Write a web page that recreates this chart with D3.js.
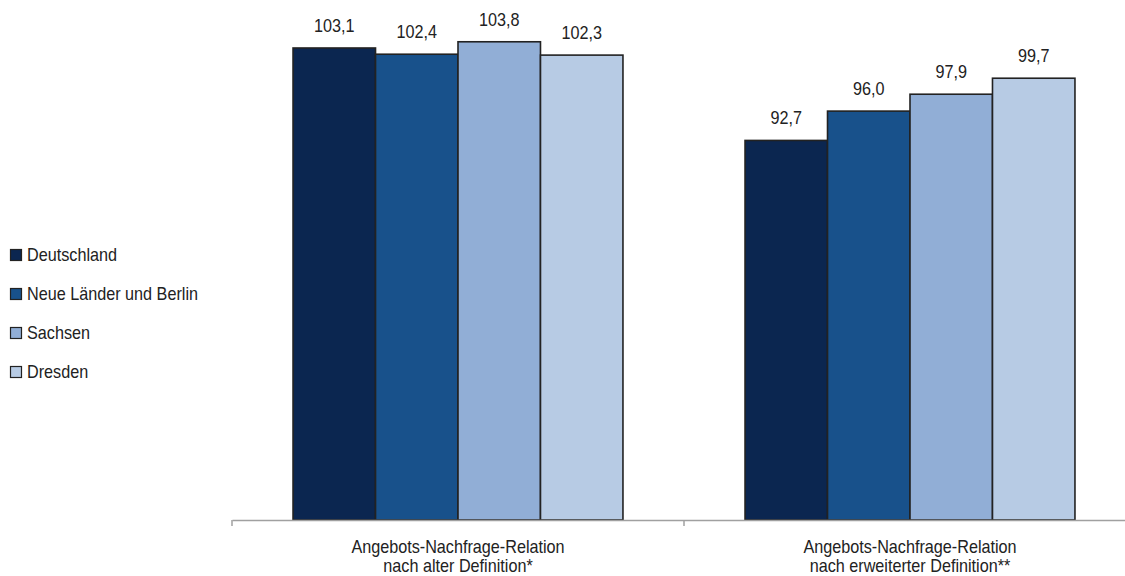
<!DOCTYPE html>
<html><head><meta charset="utf-8">
<script src="https://cdn.jsdelivr.net/npm/d3@7"></script>
<style>
body{margin:0;background:#fff;}
svg{display:block;font-family:"Liberation Sans Narrow","Arial Narrow","Liberation Sans",Arial,sans-serif;}
</style></head>
<body>
<svg id="chart" width="1125" height="576"></svg>
<script>
const categories = [["Angebots-Nachfrage-Relation","nach alter Definition*"],["Angebots-Nachfrage-Relation","nach erweiterter Definition**"]];
const seriesNames = ["Deutschland","Neue Länder und Berlin","Sachsen","Dresden"];
const deutschland = [103.1, 92.7];
const neueLaender = [102.4, 96.0];
const sachsen = [103.8, 97.9];
const dresden = [102.3, 99.7];
const colors = ["#0b2650","#18518b","#91aed6","#b7cbe4"];

const seriesValues = [deutschland, neueLaender, sachsen, dresden];
const fmt = v => v.toFixed(1).replace(".", ",");
const SX = 0.9; // horizontal condensing to mimic the narrow typeface

const svg = d3.select("#chart");
const axisY = 520;
const x0 = d3.scaleBand().domain(d3.range(categories.length)).range([232, 1136]).paddingInner(0).paddingOuter(0);
const x1 = d3.scaleBand().domain(d3.range(seriesNames.length)).range([0, x0.bandwidth()]).paddingOuter(0.74).paddingInner(0);
const y = d3.scaleLinear().domain([50, 105]).range([axisY, axisY - 55 * 8.889]);

function label(sel, x, yy, anchor, txt, size) {
  const g = sel.append("g").attr("transform", `translate(${x},${yy}) scale(${SX},1)`);
  return g.append("text").attr("x", 0).attr("y", 0).attr("text-anchor", anchor)
    .attr("font-size", size).attr("fill", "#222").text(txt);
}

// bars
categories.forEach((c, ci) => {
  const g = svg.append("g").attr("transform", `translate(${x0(ci)},0)`);
  seriesValues.forEach((vals, si) => {
    const v = vals[ci];
    g.append("rect")
      .attr("x", x1(si)).attr("y", y(v))
      .attr("width", x1.bandwidth()).attr("height", axisY - y(v))
      .attr("fill", colors[si]).attr("stroke", "#222").attr("stroke-width", 1.6);
  });
  seriesValues.forEach((vals, si) => {
    const v = vals[ci];
    label(g, x1(si) + x1.bandwidth() / 2, y(v) - 16, "middle", fmt(v), 18);
  });
});

// axis
const axis = d3.axisBottom(x0).tickSize(0).tickFormat("");
const ag = svg.append("g").attr("transform", `translate(0,${axisY})`).call(axis);
ag.select(".domain").attr("stroke", "#a0a0a0").attr("stroke-width", 1.5);
const tickPos = d3.range(categories.length + 1).map(i => x0.range()[0] + i * x0.step());
ag.selectAll("line.sep").data(tickPos).join("line").attr("class", "sep")
  .attr("x1", d => d).attr("x2", d => d).attr("y1", 0).attr("y2", 6)
  .attr("stroke", "#a0a0a0").attr("stroke-width", 1.5);

categories.forEach((c, ci) => {
  c.forEach((line, li) => {
    label(svg, x0(ci) + x0.bandwidth() / 2, 553 + li * 19, "middle", line, 18);
  });
});

// legend
seriesNames.forEach((n, i) => {
  const yy = 249 + i * 39;
  svg.append("rect").attr("x", 10.5).attr("y", yy + 0.5).attr("width", 11).attr("height", 11)
    .attr("fill", colors[i]).attr("stroke", "#222").attr("stroke-width", 1.2);
  label(svg, 27, yy + 11.5, "start", n, 18);
});
</script>
</body></html>
